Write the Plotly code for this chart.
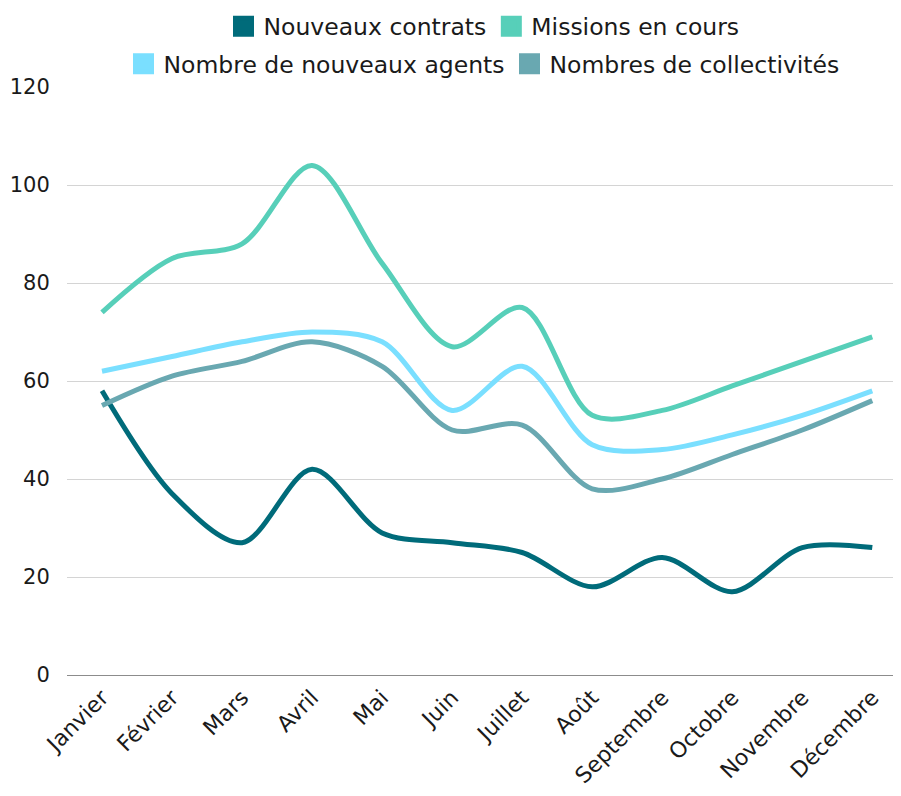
import plotly.graph_objects as go

months = ["Janvier", "Février", "Mars", "Avril", "Mai", "Juin", "Juillet",
          "Août", "Septembre", "Octobre", "Novembre", "Décembre"]
nouveaux_contrats = [58, 37, 27, 42, 29, 27, 25, 18, 24, 17, 26, 26]
missions_en_cours = [74, 85, 88, 104, 84, 67, 75, 53, 54, 59, 64, 69]
nouveaux_agents = [62, 65, 68, 70, 68, 54, 63, 47, 46, 49, 53, 58]
collectivites = [55, 61, 64, 68, 63, 50, 51, 38, 40, 45, 50, 56]

series = [
    ("Nouveaux contrats", nouveaux_contrats, "#006B7A", "legend"),
    ("Missions en cours", missions_en_cours, "#57CFB9", "legend"),
    ("Nombre de nouveaux agents", nouveaux_agents, "#7ADFFF", "legend2"),
    ("Nombres de collectivités", collectivites, "#69A8B1", "legend2"),
]

FONT = "DejaVu Sans"
fig = go.Figure()
for name, vals, color, lg in series:
    fig.add_trace(go.Scatter(
        x=months, y=vals, mode="lines", name=name, showlegend=False,
        line=dict(color=color, width=5, shape="spline", smoothing=0.9),
    ))
for name, vals, color, lg in series:
    fig.add_trace(go.Scatter(
        x=[None], y=[None], mode="markers", name=name, legend=lg,
        marker=dict(symbol="square", size=16, color=color,
                    line=dict(color=color, width=8)),
    ))

# the page body has an 8px margin, so the figure is sized/offset to compensate
fig.update_layout(
    width=893, height=788,
    margin=dict(l=59, r=0, t=79, b=121, autoexpand=False),
    paper_bgcolor="white", plot_bgcolor="white",
    font=dict(family=FONT, size=23, color="#1a1a1a"),
    legend=dict(orientation="h", x=0.5, xanchor="center", y=1.103, yanchor="middle",
                font=dict(size=23.5), itemwidth=30, tracegroupgap=0,
                bgcolor="rgba(0,0,0,0)"),
    legend2=dict(orientation="h", x=0.5, xanchor="center", y=1.039, yanchor="middle",
                 font=dict(size=23.5), itemwidth=30, tracegroupgap=0,
                 bgcolor="rgba(0,0,0,0)"),
    xaxis=dict(type="category", range=[-0.5, 11.41], tickangle=-45, automargin=False,
               showgrid=False, showline=True, linecolor="#8c8c8c", linewidth=1,
               ticks="", tickfont=dict(size=22, family=FONT)),
    yaxis=dict(range=[0, 120], dtick=20, showgrid=True, gridcolor="#d4d4d4",
               gridwidth=1, zeroline=False, showline=False, automargin=False,
               ticks="outside", ticklen=12, tickcolor="rgba(0,0,0,0)",
               tickfont=dict(size=21, family=FONT)),
)

fig.write_html("out.html")
